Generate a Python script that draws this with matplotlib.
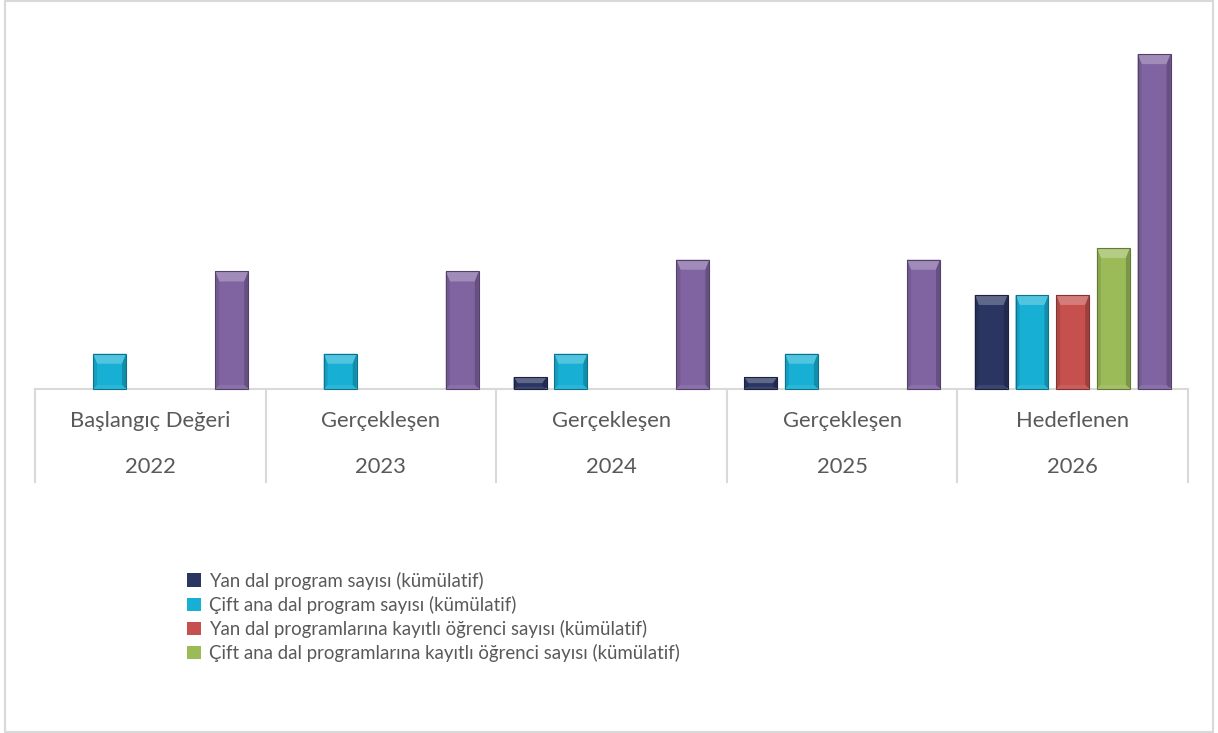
import matplotlib
matplotlib.use("Agg")
import matplotlib.pyplot as plt
from matplotlib.patches import Polygon, Rectangle
from matplotlib.transforms import blended_transform_factory, IdentityTransform
import numpy as np

plt.rcParams['font.family'] = ['Lato', 'DejaVu Sans']

# ---- data ----
categories = ["Başlangıç Değeri", "Gerçekleşen", "Gerçekleşen", "Gerçekleşen", "Hedeflenen"]
years = ["2022", "2023", "2024", "2025", "2026"]
series_names = [
    "Yan dal program sayısı (kümülatif)",
    "Çift ana dal program sayısı (kümülatif)",
    "Yan dal programlarına kayıtlı öğrenci sayısı (kümülatif)",
    "Çift ana dal programlarına kayıtlı öğrenci sayısı (kümülatif)",
    "_Seri 5",
]
yan_dal_program = [0, 0, 1, 1, 8]
cift_ana_dal_program = [3, 3, 3, 3, 8]
yan_dal_ogrenci = [0, 0, 0, 0, 8]
cift_ana_dal_ogrenci = [0, 0, 0, 0, 12]
seri5 = [10, 10, 11, 11, 28.5]
series_values = [yan_dal_program, cift_ana_dal_program, yan_dal_ogrenci,
                 cift_ana_dal_ogrenci, seri5]
colors = ["#2a3562", "#17b0d4", "#c5504e", "#9bbb59", "#8064a2"]

W, H = 1218, 733
fig = plt.figure(figsize=(W / 100, H / 100), dpi=100)
fig.patch.set_facecolor("white")

# axes placement (pixels)
left_px, right_px, top_px, base_px = 35, 1188, 20, 389
ax = fig.add_axes([left_px / W, (H - base_px) / H, (right_px - left_px) / W,
                   (base_px - top_px) / H])
ax.set_facecolor("none")

n = len(series_values)
pitch = 0.1765
bw = 0.143
x = np.arange(len(categories))
bars = []
for i, (vals, c, name) in enumerate(zip(series_values, colors, series_names)):
    b = ax.bar(x + (i - (n - 1) / 2) * pitch, vals, width=bw, color=c,
               label=name, edgecolor="none", zorder=2)
    bars.append(b)

ax.set_xlim(-0.5, len(categories) - 0.5)
ax.set_ylim(0, 31.4)
for s in ["top", "left", "right"]:
    ax.spines[s].set_visible(False)
ax.spines["bottom"].set_color("#d9d9d9")
ax.spines["bottom"].set_linewidth(1.5)
ax.set_yticks([])
ax.set_xticks([])


def mix(c, other, t):
    c = np.array(matplotlib.colors.to_rgb(c))
    o = np.array(matplotlib.colors.to_rgb(other))
    return tuple(c * (1 - t) + o * t)


# bevel overlay derived from bar geometry
for b, c in zip(bars, colors):
    for r in b.patches:
        if r.get_height() <= 0:
            continue
        (x0, y0) = ax.transData.transform((r.get_x(), 0))
        (x1, y1) = ax.transData.transform((r.get_x() + r.get_width(), r.get_height()))
        w = x1 - x0
        h = y1 - y0
        d = min(10, w / 2, h / 2)
        ds = min(4, w / 2)
        tr = IdentityTransform()
        polys = [
            ([(x0, y1), (x1, y1), (x1 - ds, y1 - d), (x0 + ds, y1 - d)], mix(c, "white", 0.25)),
            ([(x0, y0), (x0, y1), (x0 + ds, y1 - d), (x0 + ds, y0 + d * 0.4)], mix(c, "black", 0.10)),
            ([(x1, y0), (x1, y1), (x1 - ds, y1 - d), (x1 - ds, y0 + d * 0.4)], mix(c, "black", 0.20)),
            ([(x0, y0), (x1, y0), (x1 - ds, y0 + d * 0.4), (x0 + ds, y0 + d * 0.4)], mix(c, "white", 0.08)),
        ]
        for pts, col in polys:
            p = Polygon(pts, closed=True, facecolor=col, edgecolor="none",
                        transform=tr, zorder=3)
            fig.add_artist(p)
        fig.add_artist(Rectangle((x0, y0), w, h, fill=False,
                                 edgecolor=mix(c, "black", 0.35), lw=0.8,
                                 transform=tr, zorder=4))

# category table
trans = blended_transform_factory(ax.transData, ax.transAxes)
ax_h = base_px - top_px
line_bottom = -(482 - base_px) / ax_h
for xb in np.arange(-0.5, len(categories), 1.0):
    ax.plot([xb, xb], [0, line_bottom], color="#d9d9d9", lw=1.5,
            transform=trans, clip_on=False)
row1 = -(421 - base_px) / ax_h
row2 = -(467 - base_px) / ax_h
for xi, cat, yr in zip(x, categories, years):
    ax.text(xi, row1, cat, transform=trans, ha="center", va="center",
            fontsize=15.8, color="#595959")
    ax.text(xi, row2, yr, transform=trans, ha="center", va="center",
            fontsize=15.8, color="#595959")

# legend
leg = fig.legend(handles=[b for b in bars[:4]], labels=series_names[:4],
                 loc="upper left", bbox_to_anchor=(180 / W, 1 - 564 / H),
                 frameon=False, fontsize=13.4, labelcolor="#595959",
                 handlelength=0.72, handleheight=0.72, handletextpad=0.45,
                 labelspacing=0.33, borderaxespad=0)

# outer border
fig.add_artist(Rectangle((5, 1), W - 10, H - 2, fill=False, edgecolor="#d9d9d9",
                         lw=1.5, transform=IdentityTransform(), zorder=0))

fig.savefig("out.png", dpi=100, facecolor="white")
